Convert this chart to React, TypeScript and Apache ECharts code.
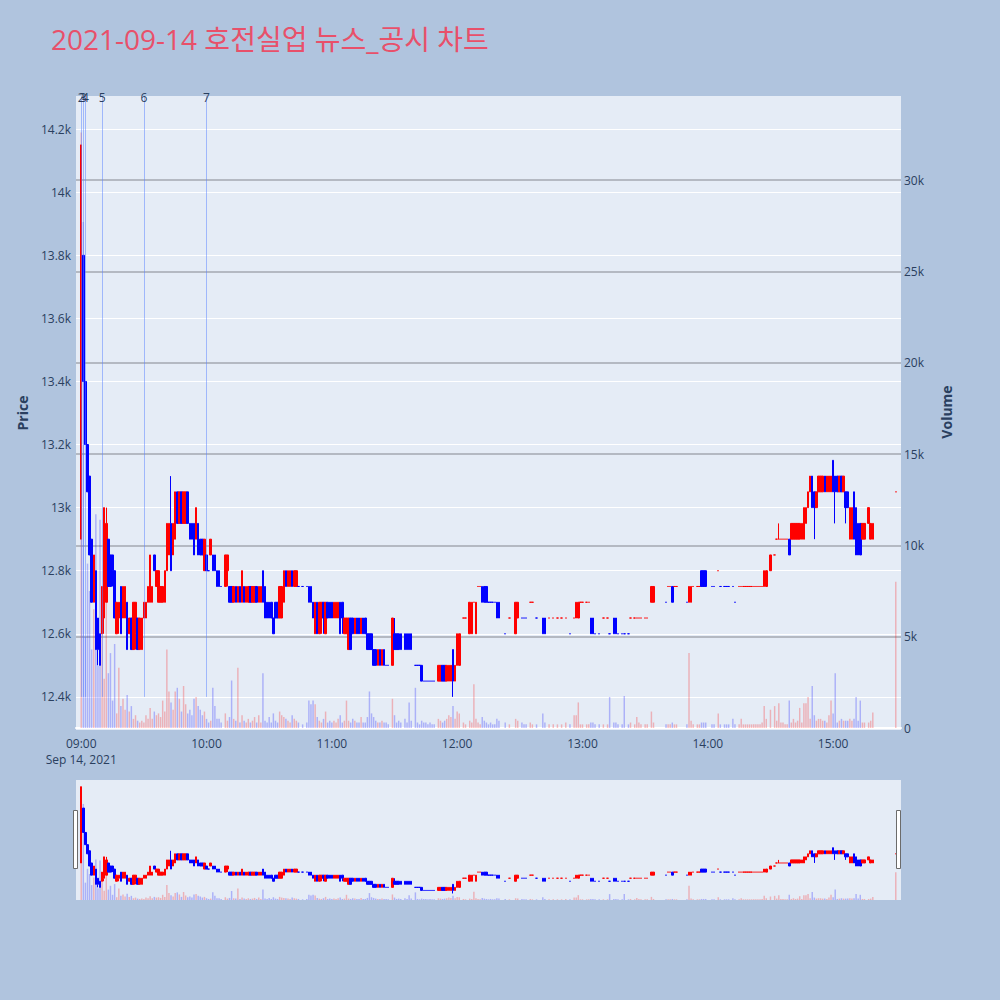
import React, { useEffect, useRef } from 'react';
import * as echarts from 'echarts';

// ---- data (1-minute candles) ----
const times: string[] = [
  // 09h
  '09:00','09:01','09:02','09:03','09:04','09:05','09:06','09:07','09:08','09:09',
  '09:10','09:11','09:12','09:13','09:14','09:15','09:16','09:17','09:18','09:19',
  '09:20','09:21','09:22','09:23','09:24','09:25','09:26','09:27','09:28','09:29',
  '09:30','09:31','09:32','09:33','09:34','09:35','09:36','09:37','09:38','09:39',
  '09:40','09:41','09:42','09:43','09:44','09:45','09:46','09:47','09:48','09:49',
  '09:50','09:51','09:52','09:53','09:54','09:55','09:56','09:57','09:58','09:59',
  // 10h
  '10:00','10:01','10:02','10:03','10:04','10:05','10:06','10:07',
  '10:09','10:10','10:11','10:12','10:13','10:14','10:15','10:16','10:17','10:18',
  '10:19','10:20','10:21','10:22','10:23','10:24','10:25','10:26','10:27','10:28',
  '10:29','10:30','10:31','10:32','10:33','10:34','10:35','10:36','10:37','10:38',
  '10:39','10:40','10:41','10:42','10:43','10:44',
  '10:46','10:48',
  '10:49','10:50','10:51','10:52','10:53','10:54','10:55','10:56','10:57','10:58','10:59',
  // 11h
  '11:00','11:01','11:02','11:03','11:04','11:05','11:06','11:07','11:08','11:09',
  '11:10','11:11','11:12','11:13','11:14','11:15','11:16','11:17','11:18','11:19',
  '11:20','11:21','11:22','11:23','11:24','11:25','11:26','11:27',
  '11:29','11:30','11:31','11:32','11:33',
  '11:35','11:36','11:37','11:38',
  '11:40','11:41','11:42','11:43','11:44','11:45','11:46','11:47','11:48','11:49',
  '11:51','11:52','11:53','11:54','11:55','11:56','11:57','11:58','11:59',
  // 12h
  '12:00','12:01',
  '12:03','12:04',
  '12:06','12:07','12:08','12:09','12:10','12:11','12:12','12:13','12:14','12:15','12:16','12:17','12:18','12:19','12:20',
  '12:23','12:25','12:28','12:29','12:31','12:32','12:33','12:35','12:36','12:38',
  '12:41','12:42','12:44','12:46','12:48','12:50','12:52','12:54','12:56','12:57','12:58','12:59',
  // 13h
  '13:00','13:02','13:03','13:04','13:05','13:06','13:08','13:10','13:12','13:13',
  '13:15','13:16','13:17','13:19','13:20','13:22','13:23','13:25','13:26','13:27',
  '13:28','13:30','13:31','13:33','13:34','13:40','13:41','13:42','13:43','13:44',
  '13:45','13:50','13:51','13:52','13:53','13:55','13:56','13:57','13:58','13:59',
  // 14h
  '14:02','14:03','14:05','14:06','14:08','14:09','14:10','14:12','14:13','14:15',
  '14:16','14:17','14:18','14:19','14:20','14:21','14:22','14:23','14:24','14:25',
  '14:26','14:27','14:28','14:30','14:32','14:33','14:34','14:35','14:36','14:37',
  '14:38','14:39','14:40','14:41','14:42','14:43','14:44','14:45','14:46','14:47',
  '14:48','14:49','14:50','14:51','14:52','14:53','14:54','14:55','14:56','14:57',
  '14:58','14:59',
  // 15h
  '15:00','15:01','15:02','15:03','15:04','15:05','15:06','15:07','15:08','15:09',
  '15:10','15:11','15:12','15:13','15:14','15:15',
  '15:17','15:18','15:19',
  '15:30',
];

const opens: number[] = [
  // 09h
  12900,13800,13400,13200,13100,12900,12700,12800,12650,12600,
  12600,12650,12700,12900,12850,12850,12800,12600,12650,12750,
  12650,12650,12700,12600,12650,12550,12600,12650,12550,12550,
  12650,12650,12700,12700,12700,12850,12750,12700,12700,12700,
  12700,12800,12850,12950,12850,12900,13050,12950,13050,12950,
  12950,13050,12950,12950,12950,12900,12950,12900,12900,12800,
  // 10h
  12850,12800,12850,12850,12850,12800,12800,12750,
  12750,12800,12750,12750,12700,12750,12700,12750,12700,12750,
  12700,12700,12750,12700,12700,12750,12700,12700,12800,12750,
  12700,12700,12700,12650,12700,12700,12650,12650,12700,12800,
  12750,12750,12800,12750,12750,12750,
  12750,12750,
  12750,12750,12700,12600,12700,12600,12650,12700,12600,12700,12700,
  // 11h
  12700,12650,12650,12650,12700,12700,12600,12600,12550,12650,
  12650,12600,12650,12650,12600,12650,12650,12600,12600,12600,
  12550,12550,12500,12550,12500,12550,12500,12500,
  12500,12600,12600,12600,12600,
  12600,12600,12600,12600,
  12500,12500,12500,12500,12450,12450,12450,12450,12450,12450,
  12450,12450,12500,12500,12450,12450,12450,12550,12450,
  // 12h
  12500,12500,
  12650,12650,
  12600,12600,12700,12600,12750,12750,12750,12750,12750,12700,12700,12700,12700,12700,12700,
  12600,12650,12600,12650,12650,12650,12650,12700,12700,12650,
  12650,12650,12650,12650,12650,12650,12650,12600,12650,12650,12650,12700,
  // 13h
  12700,12700,12700,12650,12650,12600,12600,12650,12650,12600,
  12650,12650,12600,12600,12600,12600,12650,12650,12650,12650,
  12650,12650,12650,12700,12700,12700,12750,12750,12750,12750,
  12750,12700,12700,12700,12750,12750,12750,12800,12800,12800,
  // 14h
  12750,12750,12800,12750,12750,12750,12750,12750,12700,12750,
  12750,12750,12750,12750,12750,12750,12750,12750,12750,12750,
  12750,12750,12750,12800,12850,12900,12900,12900,12900,12900,
  12900,12900,12900,12900,12900,12900,12900,12900,12900,12950,
  13000,13050,13100,13050,13000,13050,13050,13050,13100,13050,
  13050,13050,
  // 15h
  13150,13100,13100,13050,13100,13050,13050,13050,12900,12900,
  13050,13000,12950,12950,12900,12900,
  12950,12900,12900,
  13050,
];

const highs: number[] = [
  // 09h
  14150,13800,13400,13200,13100,12900,12850,12800,12650,12600,
  12750,13000,13000,12900,12850,12850,12800,12700,12700,12750,
  12750,12750,12700,12650,12650,12700,12700,12650,12650,12650,
  12700,12700,12750,12850,12750,12850,12800,12800,12750,12750,
  12800,12950,12950,13100,12950,13050,13050,13050,13050,13050,
  13050,13050,12950,12950,12950,13000,12950,12900,12900,12900,
  // 10h
  12850,12800,12900,12850,12850,12800,12800,12750,
  12850,12850,12750,12750,12750,12750,12750,12750,12800,12750,
  12750,12750,12750,12750,12750,12750,12750,12750,12800,12750,
  12700,12700,12700,12650,12700,12700,12750,12750,12800,12800,
  12800,12800,12800,12800,12800,12750,
  12750,12750,
  12750,12750,12700,12700,12700,12700,12700,12700,12700,12700,12700,
  // 11h
  12700,12700,12700,12700,12700,12700,12650,12650,12650,12650,
  12650,12650,12650,12650,12650,12650,12650,12600,12600,12600,
  12550,12550,12550,12550,12550,12550,12500,12500,
  12650,12650,12600,12600,12600,
  12600,12600,12600,12600,
  12500,12500,12500,12500,12450,12450,12450,12450,12450,12450,
  12500,12500,12500,12500,12500,12500,12500,12550,12500,
  // 12h
  12600,12600,
  12650,12650,
  12700,12700,12700,12700,12750,12750,12750,12750,12750,12700,12700,12700,12700,12700,12700,
  12600,12650,12700,12700,12650,12650,12650,12700,12700,12650,
  12650,12650,12650,12650,12650,12650,12650,12600,12650,12700,12700,12700,
  // 13h
  12700,12700,12700,12650,12650,12600,12600,12650,12650,12600,
  12650,12650,12600,12600,12600,12600,12650,12650,12650,12650,
  12650,12650,12650,12750,12750,12700,12750,12750,12750,12750,
  12750,12700,12750,12750,12750,12750,12750,12800,12800,12800,
  // 14h
  12750,12750,12800,12750,12750,12750,12750,12750,12700,12750,
  12750,12750,12750,12750,12750,12750,12750,12750,12750,12750,
  12750,12800,12800,12850,12850,12900,12950,12900,12900,12900,
  12900,12900,12950,12950,12950,12950,12950,12950,13000,13000,
  13050,13100,13100,13050,13050,13100,13100,13100,13100,13100,
  13100,13100,
  // 15h
  13150,13100,13100,13100,13100,13100,13050,13050,13000,13000,
  13050,13000,12950,12950,12950,12950,
  13000,12950,12950,
  13050,
];

const lows: number[] = [
  // 09h
  12900,13400,13200,13050,12850,12700,12700,12550,12500,12500,
  12600,12600,12700,12750,12750,12750,12650,12600,12600,12600,
  12650,12650,12550,12600,12550,12550,12550,12550,12550,12550,
  12650,12650,12700,12700,12700,12800,12750,12700,12700,12700,
  12700,12800,12850,12800,12850,12900,12950,12950,12950,12950,
  12950,12950,12900,12900,12850,12900,12850,12850,12850,12800,
  // 10h
  12800,12800,12850,12800,12800,12750,12750,12750,
  12750,12750,12700,12700,12700,12700,12700,12700,12700,12700,
  12700,12700,12700,12700,12700,12700,12700,12700,12700,12650,
  12650,12650,12650,12600,12650,12650,12650,12650,12700,12750,
  12750,12750,12750,12750,12750,12750,
  12750,12750,
  12700,12700,12650,12600,12600,12600,12600,12600,12600,12650,12650,
  // 11h
  12650,12650,12650,12650,12600,12600,12600,12600,12550,12550,
  12600,12600,12600,12600,12600,12600,12600,12550,12550,12550,
  12500,12500,12500,12500,12500,12500,12500,12500,
  12500,12550,12550,12550,12550,
  12550,12550,12550,12550,
  12500,12500,12500,12450,12450,12450,12450,12450,12450,12450,
  12450,12450,12450,12450,12450,12450,12450,12400,12450,
  // 12h
  12500,12500,
  12650,12650,
  12600,12600,12700,12600,12750,12750,12700,12700,12700,12700,12700,12700,12700,12650,12650,
  12600,12650,12600,12650,12650,12650,12650,12700,12700,12650,
  12600,12600,12650,12650,12650,12650,12650,12600,12650,12650,12650,12700,
  // 13h
  12700,12700,12700,12600,12600,12600,12600,12650,12650,12600,
  12600,12600,12600,12600,12600,12600,12650,12650,12650,12650,
  12650,12650,12650,12700,12700,12700,12750,12750,12700,12750,
  12750,12700,12700,12700,12750,12750,12750,12750,12750,12750,
  // 14h
  12750,12750,12800,12750,12750,12750,12750,12750,12700,12750,
  12750,12750,12750,12750,12750,12750,12750,12750,12750,12750,
  12750,12750,12750,12800,12850,12900,12900,12900,12900,12900,
  12900,12850,12900,12900,12900,12900,12900,12900,12900,12950,
  13000,13050,13000,12900,13000,13050,13050,13050,13050,13050,
  13050,13050,
  // 15h
  13050,12950,13050,13050,13050,13050,12950,13000,12900,12900,
  12900,12850,12850,12850,12900,12900,
  12950,12900,12900,
  13050,
];

const closes: number[] = [
  // 09h
  14150,13400,13200,13050,12850,12700,12850,12550,12550,12500,
  12750,13000,12950,12750,12750,12800,12650,12700,12700,12600,
  12750,12750,12550,12650,12550,12700,12700,12550,12650,12650,
  12700,12700,12750,12850,12750,12800,12800,12800,12750,12750,
  12800,12950,12950,12800,12950,13050,12950,13050,12950,13050,
  13050,12950,12900,12900,12850,13000,12850,12850,12850,12900,
  // 10h
  12800,12800,12900,12800,12800,12750,12750,12750,
  12850,12850,12700,12700,12750,12700,12750,12700,12800,12700,
  12750,12750,12700,12750,12750,12700,12750,12750,12700,12650,
  12650,12650,12650,12600,12650,12650,12750,12750,12800,12750,
  12800,12800,12750,12800,12800,12750,
  12750,12750,
  12700,12700,12650,12700,12600,12700,12700,12650,12700,12650,12650,
  // 11h
  12650,12700,12700,12700,12600,12650,12650,12650,12650,12550,
  12600,12650,12600,12600,12650,12600,12600,12550,12550,12550,
  12500,12500,12550,12500,12550,12500,12500,12500,
  12650,12550,12550,12550,12550,
  12550,12550,12550,12550,
  12500,12500,12500,12450,12450,12450,12450,12450,12450,12450,
  12500,12500,12450,12450,12500,12500,12500,12450,12500,
  // 12h
  12600,12600,
  12650,12650,
  12700,12700,12700,12700,12750,12750,12700,12700,12700,12700,12700,12700,12700,12650,12650,
  12600,12650,12700,12700,12650,12650,12650,12700,12700,12650,
  12600,12600,12650,12650,12650,12650,12650,12600,12650,12700,12700,12700,
  // 13h
  12700,12700,12700,12600,12600,12600,12600,12650,12650,12600,
  12600,12600,12600,12600,12600,12600,12650,12650,12650,12650,
  12650,12650,12650,12750,12750,12700,12750,12750,12700,12750,
  12750,12700,12750,12750,12750,12750,12750,12750,12750,12750,
  // 14h
  12750,12750,12800,12750,12750,12750,12750,12750,12700,12750,
  12750,12750,12750,12750,12750,12750,12750,12750,12750,12750,
  12750,12800,12800,12850,12850,12900,12900,12900,12900,12900,
  12900,12850,12950,12950,12950,12950,12950,12950,13000,13000,
  13050,13100,13000,13000,13050,13100,13100,13100,13050,13100,
  13100,13100,
  // 15h
  13050,13050,13050,13100,13050,13100,13000,13000,13000,13000,
  12900,12850,12850,12850,12950,12950,
  13000,12950,12950,
  13050,
];

const volumes: number[] = [
  // 09h
  32600,27700,5000,9000,7500,4300,6500,11700,3400,11400,
  6000,2700,9500,3000,4100,1500,4600,800,3300,1200,
  1600,1000,1800,900,1200,500,700,400,300,400,
  300,700,500,1100,500,900,700,800,600,1500,
  900,4300,2000,1400,1000,2000,2200,1600,900,2300,
  1300,800,1000,700,1600,1700,1200,1000,700,900,
  // 10h
  500,300,400,2200,1200,500,500,300,
  800,400,600,2600,500,400,3300,300,700,400,
  300,500,300,400,600,300,700,300,3000,400,
  300,600,300,800,400,300,900,700,600,500,
  400,300,700,500,400,300,
  200,300,
  1500,1300,1500,1300,600,400,300,500,900,300,400,
  // 11h
  300,400,300,500,700,300,400,1500,400,300,
  500,400,300,300,600,300,300,600,2000,800,
  600,400,300,300,400,300,300,200,
  1600,700,300,400,300,
  500,300,1400,400,
  2200,300,200,400,300,300,200,300,200,200,
  500,400,300,400,500,700,600,1200,500,
  // 12h
  900,800,
  300,200,
  400,300,2400,500,300,200,600,400,300,200,300,200,200,500,400,
  300,200,500,400,300,200,200,300,200,200,
  800,300,200,200,200,200,300,200,700,700,1400,200,
  // 13h
  200,200,200,300,300,200,200,200,200,1700,
  300,300,200,200,1750,200,300,200,600,300,
  200,200,200,900,300,200,200,200,300,200,
  200,200,4100,400,200,200,200,300,300,300,
  // 14h
  200,200,800,200,200,200,200,500,200,200,
  500,200,200,200,200,200,200,200,200,200,
  300,1200,500,1000,1200,400,1350,300,300,200,
  200,1500,300,500,300,400,1100,300,1350,1350,
  1700,500,2300,700,400,500,500,400,400,300,
  700,1500,
  // 15h
  800,3000,300,400,500,400,400,400,500,400,
  500,1700,400,1500,300,300,
  300,400,850,
  8000,
];

// news markers (vertical lines)
const newsLabels: string[] = ['2', '3', '4', '5', '6', '7'];
const newsTimes: string[] = ['09:00', '09:01', '09:02', '09:10', '09:30', '10:00'];

const sessionDate = 'Sep 14, 2021';
const titleText = '2021-09-14 호전실업 뉴스_공시 차트';

// ---- styling / layout ----
const FONT = '"Open Sans", "Noto Sans CJK KR", "Noto Sans", sans-serif';
const TEXT = '#2a3f5f';
const UP = '#ff0000';
const DOWN = '#0000ff';
const UP_VOL = 'rgba(255,0,0,0.25)';
const DOWN_VOL = 'rgba(0,0,255,0.25)';
const PRICE_MIN = 12295;
const PRICE_MAX = 14305;
const VOL_MAX = 34600;
const MINI_PRICE_MIN = 12293;
const MINI_PRICE_MAX = 14260;

function buildCategories(): string[] {
  const out: string[] = [];
  const pad = (n: number) => (n < 10 ? '0' + n : '' + n);
  for (let t = 8 * 60 + 58; t <= 15 * 60 + 32; t++) {
    out.push(pad(Math.floor(t / 60)) + ':' + pad(t % 60));
  }
  return out;
}

// plotly-like direction: close vs open, ties resolved with previous close
function directions(): boolean[] {
  const dirs: boolean[] = [];
  let inc = true;
  let prev: number | null = null;
  for (let i = 0; i < closes.length; i++) {
    const o = opens[i];
    const c = closes[i];
    if (c === o) {
      if (prev !== null && c !== prev) inc = c > prev;
    } else {
      inc = c > o;
    }
    dirs.push(inc);
    prev = c;
  }
  return dirs;
}

function buildOption(): any {
  const categories = buildCategories();
  const dirs = directions();
  const n = Math.min(times.length, opens.length, highs.length, lows.length, closes.length, volumes.length);

  const candleItems: any[] = [];
  const volItems: any[] = [];
  for (let i = 0; i < n; i++) {
    const col = dirs[i] ? UP : DOWN;
    candleItems.push({
      value: [times[i], opens[i], closes[i], lows[i], highs[i]],
      itemStyle: {
        color: col,
        color0: col,
        borderColor: col,
        borderColor0: col,
        borderColorDoji: col,
      },
    });
    volItems.push({
      value: [times[i], volumes[i]],
      itemStyle: { color: dirs[i] ? UP_VOL : DOWN_VOL },
    });
  }

  const markLineData = newsTimes.map((t, i) => [
    { name: newsLabels[i], coord: [t, 12400] },
    { coord: [t, PRICE_MAX] },
  ]);

  const volGridColors = ['rgba(0,0,0,0)'];
  for (let i = 0; i < 10; i++) volGridColors.push('#a3a8b0');

  const hiddenCat = (gridIndex: number, showLine = false) => ({
    type: 'category',
    gridIndex,
    data: categories,
    boundaryGap: true,
    axisLabel: { show: false },
    axisTick: { show: false },
    splitLine: { show: false },
    axisLine: { show: showLine, lineStyle: { color: '#ffffff', width: 2 } },
  });

  const gridBase = { left: 76, width: 825, containLabel: false, outerBoundsMode: 'none' };

  return {
    animation: false,
    backgroundColor: '#B0C4DE',
    title: {
      text: titleText,
      left: 46,
      top: 20,
      textStyle: { color: '#E8506A', fontSize: 28, fontWeight: 'normal', fontFamily: FONT },
    },
    grid: [
      { ...gridBase, top: 96, height: 634, show: true, backgroundColor: '#E5ECF6', borderWidth: 0 },
      { ...gridBase, top: 96, height: 632 },
      { ...gridBase, top: 780, height: 120, show: true, backgroundColor: '#E5ECF6', borderWidth: 0 },
      { ...gridBase, top: 780, height: 120 },
    ],
    xAxis: [
      {
        type: 'category',
        gridIndex: 0,
        data: categories,
        boundaryGap: true,
        axisLine: { show: false },
        axisTick: { show: false },
        splitLine: { show: false },
        axisLabel: {
          interval: (_i: number, v: string) => v.endsWith(':00'),
          formatter: (v: string) => (v === '09:00' ? v + '\n' + sessionDate : v),
          color: TEXT,
          fontSize: 12,
          fontFamily: FONT,
          lineHeight: 16,
          margin: 5,
        },
      },
      hiddenCat(1, true),
      hiddenCat(2),
      hiddenCat(3),
    ],
    yAxis: [
      {
        type: 'value',
        gridIndex: 0,
        min: PRICE_MIN,
        max: PRICE_MAX,
        minInterval: 200,
        maxInterval: 200,
        splitNumber: 10,
        name: 'Price',
        nameLocation: 'middle',
        nameGap: 47,
        nameTextStyle: { color: TEXT, fontSize: 14, fontWeight: 'bold', fontFamily: FONT },
        axisLine: { show: false },
        axisTick: { show: false },
        axisLabel: {
          formatter: (v: number) => v / 1000 + 'k',
          showMinLabel: false,
          showMaxLabel: false,
          color: TEXT,
          fontSize: 12,
          fontFamily: FONT,
          margin: 5,
        },
        splitLine: { show: true, showMinLine: false, showMaxLine: false, lineStyle: { color: '#ffffff', width: 1 } },
      },
      {
        type: 'value',
        gridIndex: 1,
        position: 'right',
        min: 0,
        max: VOL_MAX,
        interval: 5000,
        name: 'Volume',
        nameLocation: 'middle',
        nameRotate: 90,
        nameGap: 38,
        nameTextStyle: { color: TEXT, fontSize: 14, fontWeight: 'bold', fontFamily: FONT },
        axisLine: { show: false },
        axisTick: { show: false },
        axisLabel: {
          formatter: (v: number) => (v === 0 ? '0' : v / 1000 + 'k'),
          showMaxLabel: false,
          color: TEXT,
          fontSize: 12,
          fontFamily: FONT,
          margin: 3,
        },
        splitLine: { show: true, showMaxLine: false, lineStyle: { color: volGridColors, width: 1.5 } },
      },
      { type: 'value', gridIndex: 2, min: MINI_PRICE_MIN, max: MINI_PRICE_MAX, show: false, splitLine: { show: false } },
      { type: 'value', gridIndex: 3, min: 0, max: VOL_MAX, show: false, splitLine: { show: false } },
    ],
    series: [
      {
        type: 'bar',
        name: 'Volume',
        xAxisIndex: 1,
        yAxisIndex: 1,
        data: volItems,
        encode: { x: 0, y: 1 },
        barWidth: '70%',
        z: 1,
        silent: true,
      },
      {
        type: 'candlestick',
        name: 'Price',
        xAxisIndex: 0,
        yAxisIndex: 0,
        data: candleItems,
        encode: { x: 0, y: [1, 2, 3, 4] },
        barWidth: 2,
        itemStyle: { borderWidth: 1 },
        z: 2,
        silent: true,
        markLine: {
          silent: true,
          animation: false,
          symbol: ['none', 'none'],
          lineStyle: { color: 'rgba(90,130,255,0.5)', width: 1, type: 'solid' },
          label: {
            show: true,
            position: 'end',
            distance: -7,
            formatter: '{b}',
            color: TEXT,
            fontSize: 12,
            fontFamily: FONT,
          },
          emphasis: { disabled: true },
          data: markLineData,
        },
      },
      {
        type: 'bar',
        xAxisIndex: 3,
        yAxisIndex: 3,
        data: volItems,
        encode: { x: 0, y: 1 },
        barWidth: '70%',
        z: 1,
        silent: true,
      },
      {
        type: 'candlestick',
        xAxisIndex: 2,
        yAxisIndex: 2,
        data: candleItems,
        encode: { x: 0, y: [1, 2, 3, 4] },
        barWidth: 2,
        itemStyle: { borderWidth: 1 },
        z: 2,
        silent: true,
      },
    ],
    graphic: [
      {
        type: 'rect',
        shape: { x: 73.5, y: 810.5, width: 4, height: 58 },
        style: { fill: '#ffffff', stroke: '#6b6b6b', lineWidth: 1 },
        z: 10,
      },
      {
        type: 'rect',
        shape: { x: 896.5, y: 810.5, width: 4, height: 58 },
        style: { fill: '#ffffff', stroke: '#6b6b6b', lineWidth: 1 },
        z: 10,
      },
    ],
  };
}

export default function App() {
  const ref = useRef<HTMLDivElement>(null);
  useEffect(() => {
    if (!ref.current) return;
    const chart = echarts.init(ref.current, null, { renderer: 'svg' });
    chart.setOption(buildOption());
    return () => chart.dispose();
  }, []);
  return (
    <div
      ref={ref}
      style={{ position: 'fixed', left: 0, top: 0, width: 1000, height: 1000 }}
    />
  );
}
